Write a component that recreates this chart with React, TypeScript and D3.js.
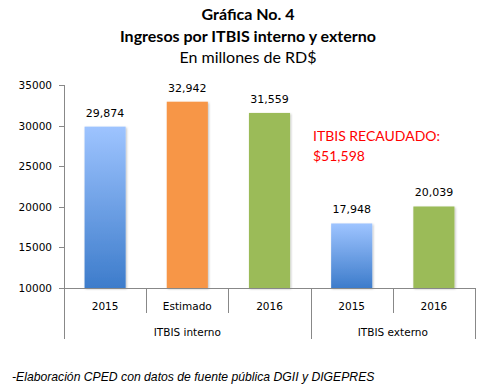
import React from "react";
import * as d3 from "d3";

const categories = ["2015", "Estimado", "2016", "2015", "2016"];
const groups = ["ITBIS interno", "ITBIS interno", "ITBIS interno", "ITBIS externo", "ITBIS externo"];
const groupNames = ["ITBIS interno", "ITBIS externo"];
const values = [29874, 32942, 31559, 17948, 20039];
const kinds = ["blue", "orange", "green", "blue", "green"];
const yTicks = [10000, 15000, 20000, 25000, 30000, 35000];
const titleLines = ["Gráfica  No. 4", "Ingresos por ITBIS interno y externo", "En millones de RD$"];
const annotation = ["ITBIS RECAUDADO:", "$51,598"];
const footnote = "-Elaboración CPED con datos de fuente pública DGII y DIGEPRES";

const W = 492, H = 392;
const left = 64, right = 475, top = 85, bottom = 288;

export default function App() {
  const x = d3.scaleBand<number>().domain(d3.range(values.length)).range([left, right]).paddingInner(0).paddingOuter(0);
  const y = d3.scaleLinear().domain([10000, 35000]).range([bottom, top]);
  const bw = x.bandwidth() * 0.5;
  const fill = (k: string) => (k === "blue" ? "url(#blueGrad)" : k === "orange" ? "#F79646" : "#9BBB59");
  const num = d3.format(",");
  const groupExt = groupNames.map((g) => {
    const idx = groups.map((gg, i) => (gg === g ? i : -1)).filter((i) => i >= 0);
    const x0 = x(idx[0])!;
    const x1 = x(idx[idx.length - 1])! + x.bandwidth();
    return { g, x0, x1 };
  });
  return (
    <svg width={W} height={H} style={{ position: "absolute", left: 0, top: 0, background: "#fff" }}>
      <defs>
        <linearGradient id="blueGrad" x1="0" y1="0" x2="0" y2="1">
          <stop offset="0%" stopColor="#9EC4FF" />
          <stop offset="100%" stopColor="#3D7CCB" />
        </linearGradient>
        <filter id="sh" x="-20%" y="-20%" width="140%" height="140%">
          <feDropShadow dx="1" dy="1" stdDeviation="1" floodColor="#000" floodOpacity="0.25" />
        </filter>
      </defs>
      <g fontFamily="Lato, 'Open Sans', sans-serif" textAnchor="middle" fill="#000">
        <text x={W / 2 + 2} y={20} fontSize={16} fontWeight="bold">{titleLines[0]}</text>
        <text x={W / 2 + 2} y={42} fontSize={16} fontWeight="bold">{titleLines[1]}</text>
        <text x={W / 2 + 2} y={63} fontSize={16}>{titleLines[2]}</text>
      </g>
      <line x1={left + 0.5} x2={left + 0.5} y1={top} y2={339} stroke="#888" />
      {yTicks.map((t) => (
        <g key={t}>
          <line x1={left - 5} x2={left} y1={Math.round(y(t)) + 0.5} y2={Math.round(y(t)) + 0.5} stroke="#888" />
          <text x={left - 12} y={y(t) + 4} textAnchor="end" fontFamily="'DejaVu Sans', sans-serif" fontSize={10.5} fill="#000">{t}</text>
        </g>
      ))}
      {values.map((v, i) => (
        <g key={i}>
          <rect x={x(i)! + (x.bandwidth() - bw) / 2} y={y(v)} width={bw} height={bottom - y(v)} fill={fill(kinds[i])} filter="url(#sh)" />
          <text x={x(i)! + x.bandwidth() / 2} y={y(v) - 10} textAnchor="middle" fontFamily="'DejaVu Sans', sans-serif" fontSize={11} fill="#000">{num(v)}</text>
        </g>
      ))}
      <line x1={left - 5} x2={right} y1={bottom + 0.5} y2={bottom + 0.5} stroke="#888" />
      {categories.map((c, i) => (
        <g key={i}>
          {i > 0 && groups[i] === groups[i - 1] && (
            <line x1={Math.round(x(i)!) + 0.5} x2={Math.round(x(i)!) + 0.5} y1={bottom} y2={313} stroke="#888" />
          )}
          <text x={x(i)! + x.bandwidth() / 2} y={310} textAnchor="middle" fontFamily="'DejaVu Sans', sans-serif" fontSize={10.5} fill="#000">{c}</text>
        </g>
      ))}
      {groupExt.map((g) => (
        <g key={g.g}>
          <line x1={Math.round(g.x1) + 0.5} x2={Math.round(g.x1) + 0.5} y1={bottom} y2={339} stroke="#888" />
          <text x={(g.x0 + g.x1) / 2} y={336} textAnchor="middle" fontFamily="'DejaVu Sans', sans-serif" fontSize={10.5} fill="#000">{g.g}</text>
        </g>
      ))}
      <g fontFamily="Lato, 'Open Sans', sans-serif" fontSize={14} fill="#FF0000">
        <text x={313} y={141}>{annotation[0]}</text>
        <text x={313} y={161}>{annotation[1]}</text>
      </g>
      <text x={12} y={381} fontFamily="'Liberation Sans', Arial, sans-serif" fontStyle="italic" fontSize={12.2} fill="#000">{footnote}</text>
    </svg>
  );
}
